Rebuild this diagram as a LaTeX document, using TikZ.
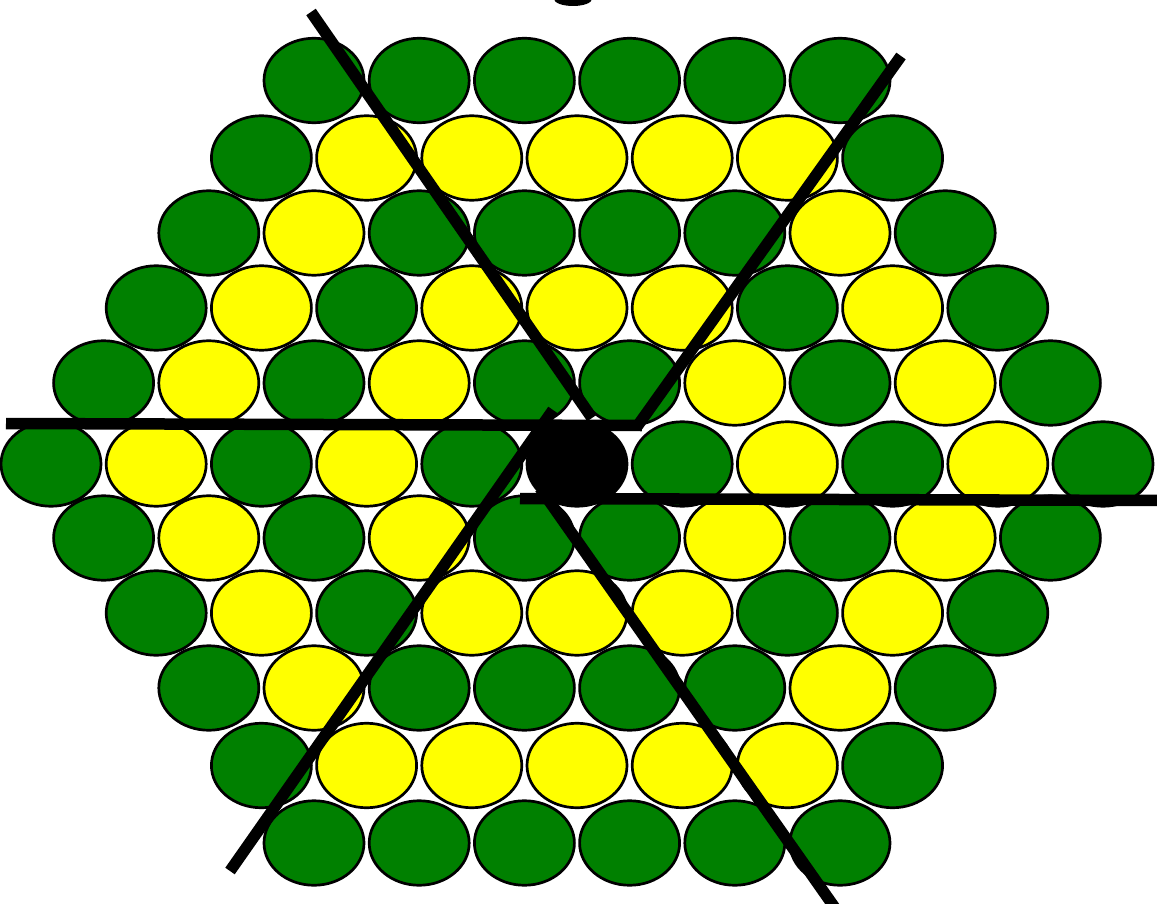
\documentclass[tikz,border=0pt]{standalone}
\usetikzlibrary{shapes.geometric}
\definecolor{leafgreen}{RGB}{0,128,0}
\definecolor{lemon}{RGB}{255,255,0}

\begin{document}
\begin{tikzpicture}[x=1pt,y=-1pt,
  cell/.style={draw=black,line width=2.7pt,ellipse,minimum width=100pt,minimum height=84.5pt,inner sep=0pt},
  spoke/.style={line width=11.5pt,black}]
\useasboundingbox (0,0) rectangle (1157,904);
% rings of cells, counted out from the core
\foreach \yy [count=\r from 0] in {80.5,158,233,308,383,464,538,613,688,765.5,843}{
  \pgfmathtruncatemacro{\dr}{abs(\r-5)}
  \pgfmathtruncatemacro{\hmax}{10-\dr}
  \foreach \k in {0,...,\hmax}{
    \pgfmathtruncatemacro{\hh}{2*\k-\hmax}
    \pgfmathtruncatemacro{\ring}{max(\dr,(abs(\hh)+\dr)/2)}
    \pgfmathtruncatemacro{\odd}{mod(\ring,2)}
    \ifnum\ring=0 \def\cellcol{black}\else
      \ifnum\odd=1 \def\cellcol{leafgreen}\else\def\cellcol{lemon}\fi\fi
    \node[cell,fill=\cellcol] (c-\r-\k) at ({577+52.6*\hh},\yy) {};
  }
}
% spokes
\coordinate (wa) at (6,423.5);   \coordinate (wb) at (642,425.5);
\coordinate (ea) at (520,498.5); \coordinate (eb) at (1160,500.5);
\coordinate (nwa) at (311,12);   \coordinate (nwb) at (592,418);
\coordinate (nea) at (901,56);   \coordinate (neb) at (636,428);
\coordinate (swa) at (553,410);  \coordinate (swb) at (230,871);
\coordinate (sea) at (540,488);  \coordinate (seb) at (835,908);
\draw[spoke] (wa) -- (wb);
\draw[spoke] (ea) -- (eb);
\draw[spoke] (nwa) -- (nwb);
\draw[spoke] (nea) -- (neb);
\draw[spoke] (swa) -- (swb);
\draw[spoke] (sea) -- (seb);
% cut-off title glyph at the top edge
\fill[black] (573,-1) ellipse [x radius=19,y radius=7];
\end{tikzpicture}
\end{document}
